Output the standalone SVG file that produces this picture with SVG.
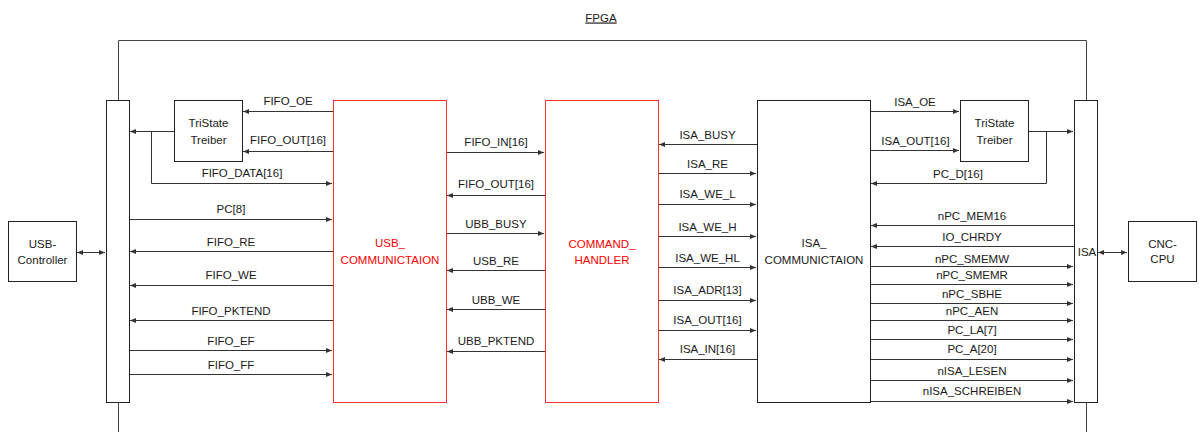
<svg xmlns="http://www.w3.org/2000/svg" width="1199" height="432" viewBox="0 0 1199 432">
<defs>
<marker id="ah" markerUnits="userSpaceOnUse" markerWidth="6" markerHeight="5" refX="6" refY="2.5" orient="auto-start-reverse">
<path d="M0,0 L6,2.5 L0,5 z" fill="#333"/>
</marker>
<style>
text{font-family:"Liberation Sans",Arial,sans-serif;font-size:11.5px;fill:#1a1a1a;text-anchor:middle}
.red{fill:#ff0000}
.box{fill:#fff;stroke:#222;stroke-width:1}
.rbox{fill:#fff;stroke:#ff3333;stroke-width:1}
.frame{fill:none;stroke:#444;stroke-width:1}
.c{fill:none;stroke:#333;stroke-width:1;marker-end:url(#ah)}
.d{fill:none;stroke:#333;stroke-width:1;marker-start:url(#ah);marker-end:url(#ah)}
</style>
</defs>
<rect width="1199" height="432" fill="#fff"/>
<g id="fpga">
<path class="frame" d="M118.5,100 V40.5 H1086.5 V100 M118.5,403 V432 M1086.5,403 V432"/>
<text x="601" y="21.5" text-decoration="underline">FPGA</text>
</g>
<g id="connectors">
<path class="c" d="M333,111.5 H243"/>
<path class="c" d="M333,151.5 H243"/>
<path class="c" d="M174,131.5 H130"/>
<path class="c" d="M151.5,131.5 V183.5 H332"/>
<path class="c" d="M129,219.5 H332"/>
<path class="c" d="M333,251.5 H130"/>
<path class="c" d="M333,285.5 H130"/>
<path class="c" d="M333,320.5 H130"/>
<path class="c" d="M129,350.5 H332"/>
<path class="c" d="M129,374.5 H332"/>
<path class="d" d="M77,252.5 H105"/>
<path class="c" d="M446,152.5 H544"/>
<path class="c" d="M545,195.5 H447"/>
<path class="c" d="M446,233.5 H544"/>
<path class="c" d="M545,270.5 H447"/>
<path class="c" d="M545,309.5 H447"/>
<path class="c" d="M545,351.5 H447"/>
<path class="c" d="M757,144.5 H659"/>
<path class="c" d="M658,173.5 H756"/>
<path class="c" d="M658,204.5 H756"/>
<path class="c" d="M658,236.5 H756"/>
<path class="c" d="M658,267.5 H756"/>
<path class="c" d="M658,300.5 H756"/>
<path class="c" d="M658,330.5 H756"/>
<path class="c" d="M757,359.5 H659"/>
<path class="c" d="M870,111.5 H959"/>
<path class="c" d="M870,150.5 H959"/>
<path class="c" d="M1029,131.5 H1073"/>
<path class="c" d="M1046.5,131.5 V183.5 H871"/>
<path class="c" d="M1074,225.5 H871"/>
<path class="c" d="M1074,246.5 H871"/>
<path class="c" d="M870,266.5 H1073"/>
<path class="c" d="M870,284.5 H1073"/>
<path class="c" d="M870,303.5 H1073"/>
<path class="c" d="M870,320.5 H1073"/>
<path class="c" d="M870,339.5 H1073"/>
<path class="c" d="M870,359.5 H1073"/>
<path class="c" d="M870,380.5 H1073"/>
<path class="c" d="M870,401.5 H1073"/>
<path class="d" d="M1098,252.5 H1127"/>
</g>
<g id="labels">
<text x="288" y="105">FIFO_OE</text>
<text x="288" y="144">FIFO_OUT[16]</text>
<text x="242" y="177">FIFO_DATA[16]</text>
<text x="231" y="213">PC[8]</text>
<text x="231" y="246">FIFO_RE</text>
<text x="231" y="279">FIFO_WE</text>
<text x="231" y="315">FIFO_PKTEND</text>
<text x="231" y="345">FIFO_EF</text>
<text x="231" y="369">FIFO_FF</text>
<text x="496" y="146">FIFO_IN[16]</text>
<text x="496" y="188">FIFO_OUT[16]</text>
<text x="496" y="228">UBB_BUSY</text>
<text x="496" y="265">USB_RE</text>
<text x="496" y="304">UBB_WE</text>
<text x="496" y="345">UBB_PKTEND</text>
<text x="707.5" y="139">ISA_BUSY</text>
<text x="707.5" y="168">ISA_RE</text>
<text x="707.5" y="198">ISA_WE_L</text>
<text x="707.5" y="231">ISA_WE_H</text>
<text x="707.5" y="262">ISA_WE_HL</text>
<text x="707.5" y="294">ISA_ADR[13]</text>
<text x="707.5" y="324">ISA_OUT[16]</text>
<text x="707.5" y="353">ISA_IN[16]</text>
<text x="915" y="106">ISA_OE</text>
<text x="915.5" y="145">ISA_OUT[16]</text>
<text x="958" y="178">PC_D[16]</text>
<text x="972" y="220">nPC_MEM16</text>
<text x="972" y="241">IO_CHRDY</text>
<text x="972" y="263">nPC_SMEMW</text>
<text x="972" y="279">nPC_SMEMR</text>
<text x="972" y="298">nPC_SBHE</text>
<text x="972" y="315">nPC_AEN</text>
<text x="972" y="334">PC_LA[7]</text>
<text x="972" y="353">PC_A[20]</text>
<text x="972" y="375">nISA_LESEN</text>
<text x="972" y="395">nISA_SCHREIBEN</text>
</g>
<g id="usb-bus"><rect class="box" x="106.5" y="100.5" width="23" height="302"/></g>
<g id="tristate-left"><rect class="box" x="174.5" y="100.5" width="68" height="61"/><text x="208.5" y="127">TriState</text><text x="208.5" y="143.5">Treiber</text></g>
<g id="usb-controller"><rect class="box" x="8.5" y="221.5" width="68" height="60"/><text x="42.5" y="248">USB-</text><text x="42.5" y="264">Controller</text></g>
<g id="usb-comm"><rect class="rbox" x="333.5" y="100.5" width="113" height="302"/><text class="red" x="390" y="247">USB_</text><text class="red" x="390" y="264">COMMUNICTAION</text></g>
<g id="command-handler"><rect class="rbox" x="545.5" y="100.5" width="113" height="302"/><text class="red" x="602" y="248">COMMAND_</text><text class="red" x="602" y="264">HANDLER</text></g>
<g id="isa-comm"><rect class="box" x="757.5" y="100.5" width="113" height="302"/><text x="814" y="247">ISA_</text><text x="814" y="264">COMMUNICTAION</text></g>
<g id="tristate-right"><rect class="box" x="960.5" y="100.5" width="68" height="61"/><text x="994.5" y="127">TriState</text><text x="994.5" y="143.5">Treiber</text></g>
<g id="isa-bus"><rect class="box" x="1074.5" y="100.5" width="23" height="302"/><text x="1087" y="256">ISA</text></g>
<g id="cnc-cpu"><rect class="box" x="1128.5" y="221.5" width="68" height="60"/><text x="1162.5" y="247.5">CNC-</text><text x="1162.5" y="263">CPU</text></g>
</svg>
